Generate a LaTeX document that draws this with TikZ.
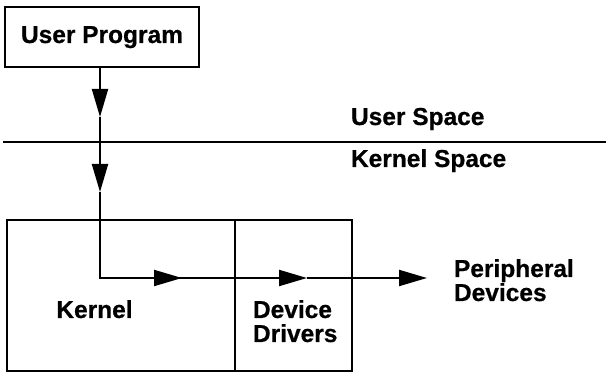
\documentclass[tikz,border=0pt]{standalone}
\usepackage{fontspec}
\setmainfont{Liberation Sans}[BoldFeatures={FakeBold=0.6}]
\usetikzlibrary{arrows.meta}
\begin{document}
\begin{tikzpicture}[x=1pt,y=-1pt,
  line width=2pt,
  lbl/.style={font=\fontsize{24.5}{24}\selectfont\bfseries, inner sep=0pt, align=left},
  box/.style={draw, line width=2.2pt, inner sep=0pt},
  flow/.style={-{Triangle[length=28pt,width=16pt]}}]
  \useasboundingbox (0,0) rectangle (606,374);

  % user program box
  \node[box, minimum width=194pt, minimum height=60pt] (up) at (102,37) {};
  \node[lbl, anchor=base] (uptext) at (102,43) {User Program};

  % boundary between user and kernel space
  \coordinate (sepL) at (3,142);
  \coordinate (sepR) at (606,142);
  \draw (sepL) -- (sepR);
  \node[lbl, anchor=base west] (us) at (350,125) {User Space};
  \node[lbl, anchor=base west] (ks) at (350,167) {Kernel Space};

  % kernel and driver boxes
  \node[box, minimum width=228pt, minimum height=151pt] (kern) at (121,295.5) {};
  \node[box, minimum width=117pt, minimum height=151pt] (drv) at (293.5,295.5) {};
  \node[lbl, anchor=base] (kerntext) at (94.5,318) {Kernel};
  % two-line labels: the base anchor sits on the last line
  \node[lbl, anchor=base west] (drvtext) at (252,342) {Device\\Drivers};
  \node[lbl, anchor=base west] (per) at (453,301) {Peripheral\\Devices};

  % call path
  \coordinate (a1) at (100,117);
  \coordinate (a2) at (100,192);
  \coordinate (bend) at (100,278);
  \coordinate (h1) at (182,278);
  \coordinate (h2) at (307,278);
  \coordinate (h3) at (427,278);
  \draw[flow] (up.south -| a1) -- (a1);
  \draw[flow] (a1) -- (a2);
  \draw (a2) -- (bend) -- (h1);
  \draw[flow] (bend) -- (h1);
  \draw[flow] (h1) -- (h2);
  \draw[flow] (h2) -- (h3);
\end{tikzpicture}
\end{document}
